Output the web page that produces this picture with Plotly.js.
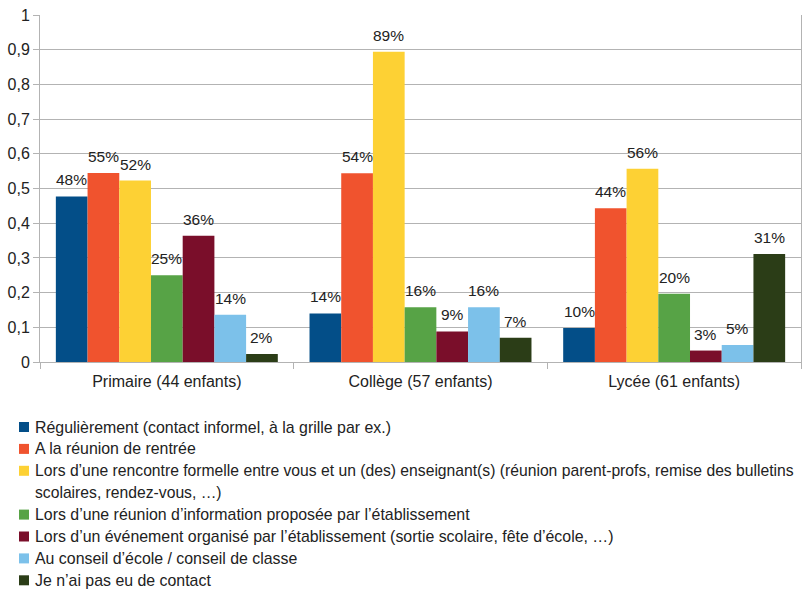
<!DOCTYPE html>
<html>
<head>
<meta charset="utf-8">
<script src="https://cdn.plot.ly/plotly-3.0.1.min.js"></script>
<style>html,body{margin:0;padding:0;background:#fff;}#chart{width:804px;height:591px;}</style>
</head>
<body>
<div id="chart"></div>
<script>
// ---- data ----
const categories = ["Primaire (44 enfants)", "Collège (57 enfants)", "Lycée (61 enfants)"];
const seriesNames = [
  "Régulièrement (contact informel, à la grille par ex.)",
  "A la réunion de rentrée",
  "Lors d’une rencontre formelle entre vous et un (des) enseignant(s) (réunion parent-profs, remise des bulletins<br>scolaires, rendez-vous, …)",
  "Lors d’une réunion d’information proposée par l’établissement",
  "Lors d’un événement organisé par l’établissement (sortie scolaire, fête d’école, …)",
  "Au conseil d’école / conseil de classe",
  "Je n’ai pas eu de contact"
];
const regulierement = [0.477, 0.14, 0.098];
const reunionRentree = [0.545, 0.544, 0.443];
const rencontreFormelle = [0.523, 0.894, 0.557];
const reunionInformation = [0.25, 0.158, 0.197];
const evenement = [0.364, 0.088, 0.033];
const conseil = [0.136, 0.158, 0.049];
const pasDeContact = [0.023, 0.07, 0.311];
const yTickValues = [0, 0.1, 0.2, 0.3, 0.4, 0.5, 0.6, 0.7, 0.8, 0.9, 1];

const seriesValues = [regulierement, reunionRentree, rencontreFormelle, reunionInformation, evenement, conseil, pasDeContact];
const colors = ["#034e88", "#f0532e", "#fdd134", "#57a346", "#7a0e2a", "#7cc1ea", "#2b3d17"];

const FONT = "Liberation Sans, Arial, sans-serif";
const TXT = "#222222";
const GRID = "#b3b3b3";

// plot area geometry (pixels)
const W = 804, H = 591;
const M = {l: 40, r: 3, t: 15, b: 229};
const pw = W - M.l - M.r, ph = H - M.t - M.b;
const xp = px => (px - M.l) / pw;
const yp = py => (H - M.b - py) / ph;
const BARGAP = 0.125;
const nSeries = seriesValues.length;
const barPx = pw / categories.length * (1 - BARGAP) / nSeries;

const traces = seriesValues.map((vals, i) => ({
  type: "bar",
  name: seriesNames[i],
  x: categories,
  y: vals,
  marker: {color: colors[i], line: {width: 0}},
  hoverinfo: "none"
}));

const shapes = [];
const annotations = [];

// value labels above bars (placed on the data scale)
seriesValues.forEach((vals, i) => {
  vals.forEach((v, j) => {
    annotations.push({xref: "x", yref: "y", x: categories[j], y: v,
      xshift: (i - (nSeries - 1) / 2) * barPx, yshift: 6,
      xanchor: "center", yanchor: "bottom", showarrow: false,
      text: Math.round(v * 100) + "%",
      font: {family: FONT, size: 15.5, color: TXT}});
  });
});

// manual legend (squares + labels)
let line = 0;
const firstY = 427, step = 21.9;
seriesNames.forEach((name, i) => {
  const cy = firstY + step * line;
  shapes.push({type: "rect", xref: "paper", yref: "paper",
    x0: xp(19), x1: xp(29), y0: yp(cy + 5), y1: yp(cy - 5),
    fillcolor: colors[i], line: {width: 0}});
  const parts = name.split("<br>");
  parts.forEach(part => {
    const ly = firstY + step * line;
    annotations.push({xref: "paper", yref: "paper", x: xp(33), y: yp(ly),
      xanchor: "left", yanchor: "middle", showarrow: false, text: part,
      font: {family: FONT, size: parts.length > 1 ? 15.7 : 15.9, color: TXT}});
    line++;
  });
});

const layout = {
  width: W, height: H,
  margin: M,
  paper_bgcolor: "#ffffff", plot_bgcolor: "#ffffff",
  separators: ", ",
  showlegend: false,
  barmode: "group",
  bargap: BARGAP,
  bargroupgap: 0,
  font: {family: FONT, size: 16, color: TXT},
  xaxis: {
    type: "category",
    tickson: "boundaries",
    ticks: "outside", ticklen: 6, tickcolor: GRID, tickwidth: 1,
    ticklabelstandoff: 5,
    showline: true, linecolor: GRID, linewidth: 1,
    showgrid: false,
    tickfont: {family: FONT, size: 16, color: TXT}
  },
  yaxis: {
    range: [0, 1],
    tickvals: yTickValues,
    ticks: "outside", ticklen: 6, tickcolor: GRID,
    showline: true, mirror: true, linecolor: GRID, linewidth: 1,
    gridcolor: GRID, gridwidth: 1,
    zeroline: false,
    tickfont: {family: FONT, size: 16, color: TXT}
  },
  shapes: shapes,
  annotations: annotations
};

Plotly.newPlot("chart", traces, layout, {displayModeBar: false, staticPlot: true});
</script>
</body>
</html>
